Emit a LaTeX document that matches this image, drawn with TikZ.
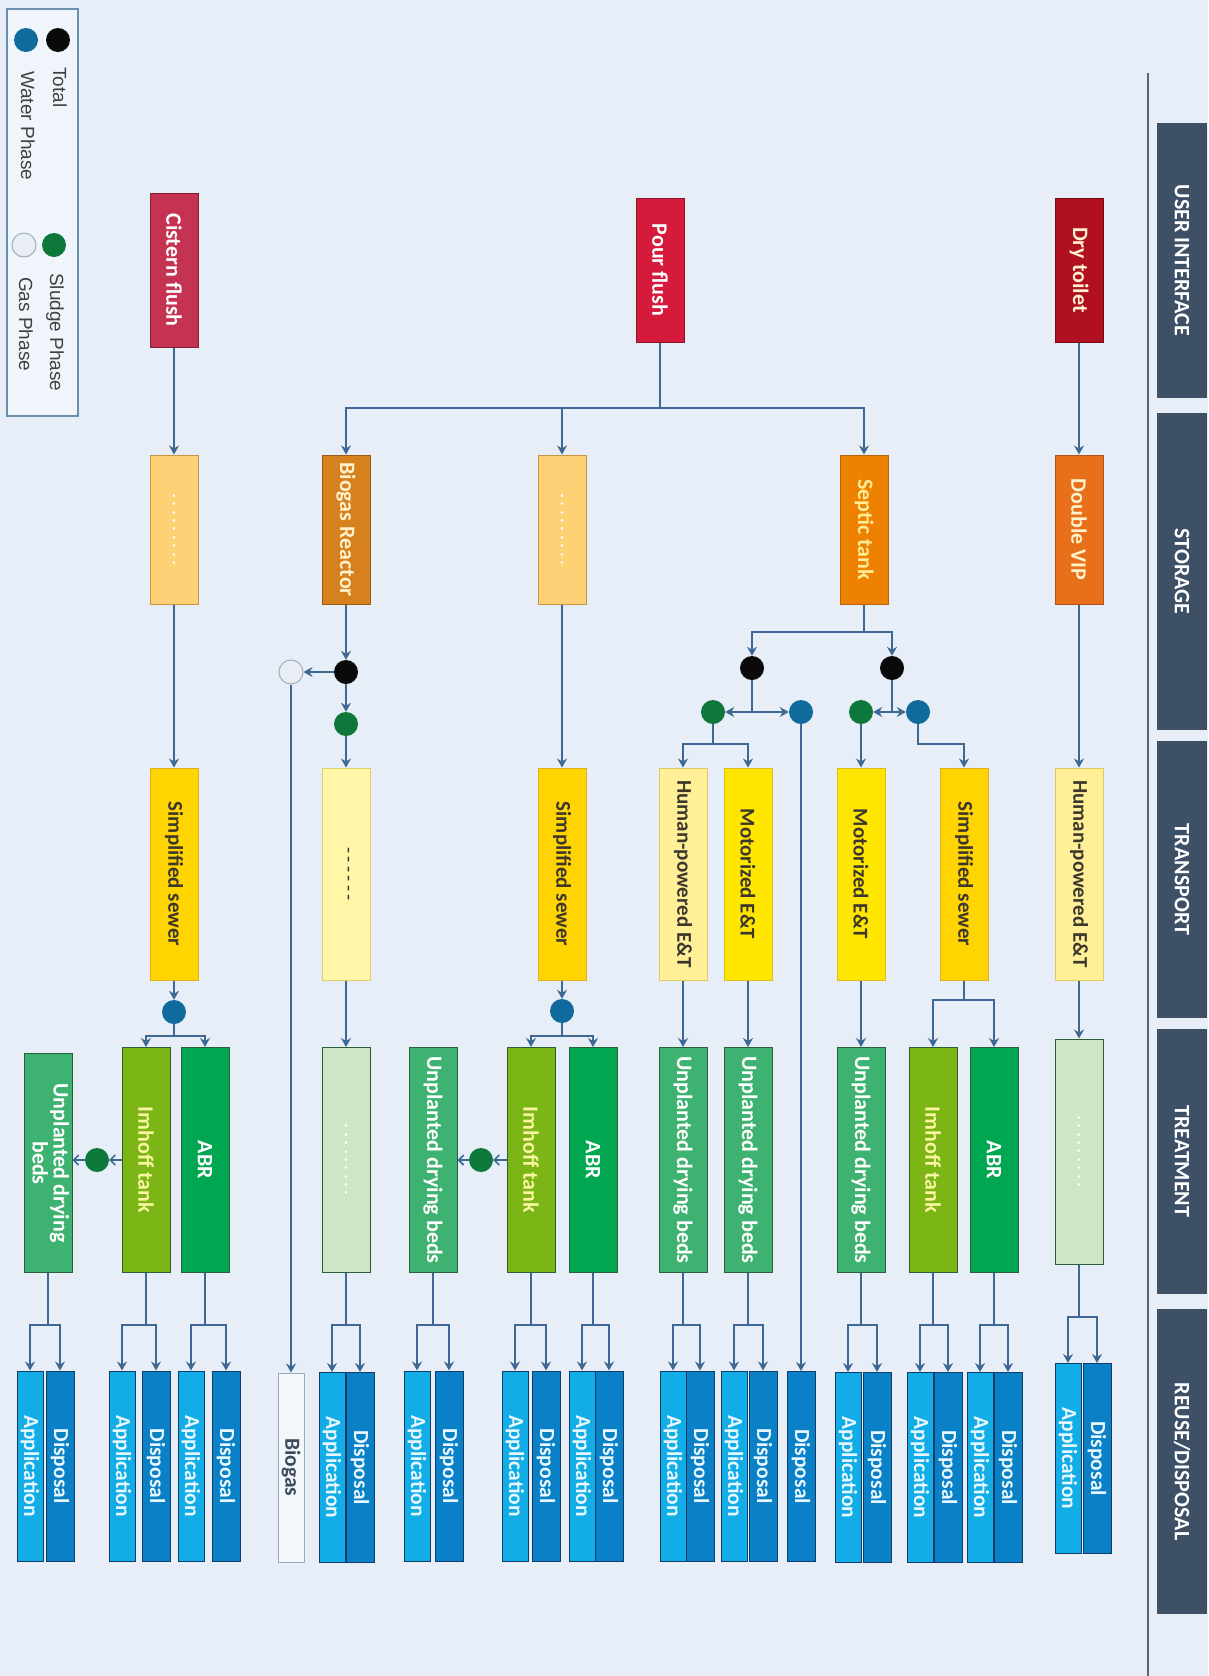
\documentclass[tikz,border=0pt]{standalone}
\usepackage{fontspec}
\usepackage{graphicx}
\setmainfont{Carlito}
\newfontfamily\legendfont{Liberation Sans}
\usetikzlibrary{arrows.meta}

% palette
\definecolor{bg}{RGB}{232,238,247}
\definecolor{hdr}{RGB}{62,80,102}
\definecolor{wire}{RGB}{62,104,148}
\definecolor{sepline}{RGB}{95,100,110}
\definecolor{legfill}{RGB}{240,245,251}
\definecolor{legbd}{RGB}{105,145,175}
\definecolor{legtxt}{RGB}{64,64,64}
\definecolor{cDry}{RGB}{176,16,32}   \definecolor{cDryB}{RGB}{115,10,20}
\definecolor{cPour}{RGB}{214,26,60}  \definecolor{cPourB}{RGB}{140,20,40}
\definecolor{cCist}{RGB}{196,52,82}  \definecolor{cCistB}{RGB}{135,30,55}
\definecolor{cVip}{RGB}{232,112,26}  \definecolor{cVipB}{RGB}{175,85,25}
\definecolor{cSep}{RGB}{238,130,0}   \definecolor{cSepB}{RGB}{185,100,10}
\definecolor{cRea}{RGB}{214,128,30}  \definecolor{cReaB}{RGB}{155,90,20}
\definecolor{cPh}{RGB}{253,210,118}  \definecolor{cPhB}{RGB}{195,150,65}
\definecolor{cHum}{RGB}{255,240,152} \definecolor{cHumB}{RGB}{225,200,95}
\definecolor{cMot}{RGB}{255,230,0}   \definecolor{cMotB}{RGB}{220,190,30}
\definecolor{cSew}{RGB}{255,212,0}   \definecolor{cSewB}{RGB}{220,175,30}
\definecolor{cBt}{RGB}{255,246,168}  \definecolor{cBtB}{RGB}{225,205,105}
\definecolor{cAbr}{RGB}{0,166,80}    \definecolor{cImh}{RGB}{124,182,22}
\definecolor{cUdb}{RGB}{62,178,112}  \definecolor{cTrPh}{RGB}{206,230,196}
\definecolor{cTrB}{RGB}{40,95,55}
\definecolor{cApp}{RGB}{18,172,230}  \definecolor{cDsp}{RGB}{10,128,198}
\definecolor{cRuB}{RGB}{20,60,105}
\definecolor{cGasBox}{RGB}{243,246,250} \definecolor{cGasBoxB}{RGB}{150,170,190}
\definecolor{dBlack}{RGB}{10,10,10}
\definecolor{dWater}{RGB}{16,106,156}
\definecolor{dSludge}{RGB}{14,120,58}
\definecolor{dGas}{RGB}{232,238,244} \definecolor{dGasB}{RGB}{160,175,190}
\definecolor{tDark}{RGB}{60,55,45}
\definecolor{tCream}{RGB}{255,242,205}
\definecolor{tSep}{RGB}{255,236,150}
\definecolor{tImh}{RGB}{250,245,160}
\definecolor{tRu}{RGB}{232,248,255}
\definecolor{tGas}{RGB}{60,75,92}

\newcommand\vt[1]{\rotatebox{-90}{#1}}
\newcommand\boxfont{\fontsize{22}{24}\selectfont\bfseries}
\newcommand\rufont{\fontsize{21.5}{23}\selectfont\bfseries}
% placeholder labels
\newcommand\dotrow{\vt{\fontsize{20}{22}\selectfont\mdseries .\,.\,.\,.\,.\,.\,.\,.\,.}}
\newcommand\dashrow{\vt{\fontsize{20}{22}\selectfont\mdseries -\,-\,-\,-\,-\,-}}

% reuse pair: name, x application, x disposal, y centre
\newcommand\rpair[4]{%
  \node[app] (#1a) at (#2,#4) {\vt{Application}};
  \node[dsp] (#1d) at (#3,#4) {\vt{Disposal}};}
% fork: source, x, y of the branch point, two targets
\newcommand\forkdown[5]{%
  \coordinate (#1-fk) at (#2,#3);
  \draw[conn] (#1) -- (#1-fk);
  \draw[arr] (#1-fk) -| (#4);
  \draw[arr] (#1-fk) -| (#5);}

\begin{document}
\begin{tikzpicture}[x=1pt,y=-1pt,
  box/.style={rectangle, draw, line width=1pt, inner sep=0pt, font=\boxfont},
  hdrbox/.style={rectangle, fill=hdr, inner sep=0pt, minimum width=50pt, text=white, font=\boxfont},
  ui/.style={box, minimum width=48pt, minimum height=144pt, text=white},
  st/.style={box, minimum width=48pt, minimum height=149pt, text=tCream},
  tp/.style={box, minimum width=48pt, minimum height=212pt, text=tDark, font=\fontsize{21}{23}\selectfont\bfseries},
  tr/.style={box, draw=cTrB, minimum width=48pt, minimum height=225pt, text=white},
  app/.style={box, draw=cRuB, fill=cApp, minimum width=26pt, minimum height=190pt, text=tRu, font=\rufont},
  dsp/.style={box, draw=cRuB, fill=cDsp, minimum width=28pt, minimum height=190pt, text=tRu, font=\rufont},
  dot/.style={circle, inner sep=0pt, minimum size=24pt},
  legtext/.style={inner sep=0pt, anchor=north, text=legtxt, font=\legendfont\fontsize{19}{21}\selectfont},
  conn/.style={draw=wire, line width=1.6pt},
  arr/.style={conn, -{Stealth[length=9pt,width=10pt,inset=3pt]}},
  chev/.style={conn, -{Straight Barb[length=5pt,width=10pt]}}]

\useasboundingbox (0,0) rectangle (1208,1676);
\fill[bg] (0,0) rectangle (1208,1676);

% stage headers
\draw[sepline, line width=1.6pt] (1148,73) -- (1148,1676);
\node[hdrbox, minimum height=275pt] (hUI) at (1182,260.5) {\vt{USER INTERFACE}};
\node[hdrbox, minimum height=317pt] (hST) at (1182,571.5) {\vt{STORAGE}};
\node[hdrbox, minimum height=277pt] (hTP) at (1182,879.5) {\vt{TRANSPORT}};
\node[hdrbox, minimum height=265pt] (hTR) at (1182,1161.5) {\vt{TREATMENT}};
\node[hdrbox, minimum height=305pt] (hRU) at (1182,1461.5) {\vt{REUSE/DISPOSAL}};

% legend
\node[draw=legbd, fill=legfill, line width=1.6pt, minimum width=71pt, minimum height=407pt, inner sep=0pt] (legend) at (42.5,212.5) {};
\node[dot, fill=dBlack] (lTot) at (58,40) {};
\node[dot, fill=dWater] (lWat) at (26,40) {};
\node[dot, fill=dSludge] (lSlu) at (54,245) {};
\node[dot, fill=dGas, draw=dGasB, line width=1pt] (lGas) at (24,245) {};
\node[legtext] (lTotT) at (60,67) {\vt{Total}};
\node[legtext] (lWatT) at (28,71) {\vt{Water Phase}};
\node[legtext] (lSluT) at (55,273) {\vt{Sludge Phase}};
\node[legtext] (lGasT) at (26,277) {\vt{Gas Phase}};

% user interface
\node[ui, fill=cDry, draw=cDryB, text=tCream] (dry) at (1079,270) {\vt{Dry toilet}};
\node[ui, fill=cPour, draw=cPourB] (pour) at (660,270) {\vt{Pour flush}};
\node[ui, fill=cCist, draw=cCistB, minimum height=154pt] (cist) at (174,270) {\vt{Cistern flush}};

% storage
\node[st, fill=cVip, draw=cVipB] (vip) at (1079,529.5) {\vt{Double VIP}};
\node[st, fill=cSep, draw=cSepB, text=tSep] (sep) at (864,529.5) {\vt{Septic tank}};
\node[st, fill=cPh, draw=cPhB, text=white] (pst) at (562,529.5) {\dotrow};
\node[st, fill=cRea, draw=cReaB] (rea) at (346,529.5) {\vt{Biogas Reactor}};
\node[st, fill=cPh, draw=cPhB, text=white] (cst) at (174,529.5) {\dotrow};

% transport
\node[tp, fill=cHum, draw=cHumB] (hum0) at (1079,874) {\vt{Human-powered E\&T}};
\node[tp, fill=cSew, draw=cSewB] (sew2) at (964,874) {\vt{Simplified sewer}};
\node[tp, fill=cMot, draw=cMotB] (mot2) at (861,874) {\vt{Motorized E\&T}};
\node[tp, fill=cMot, draw=cMotB] (mot1) at (748,874) {\vt{Motorized E\&T}};
\node[tp, fill=cHum, draw=cHumB] (hum1) at (683,874) {\vt{Human-powered E\&T}};
\node[tp, fill=cSew, draw=cSewB] (psew) at (562,874) {\vt{Simplified sewer}};
\node[tp, fill=cBt, draw=cBtB] (biot) at (346,874) {\dashrow};
\node[tp, fill=cSew, draw=cSewB] (csew) at (174,874) {\vt{Simplified sewer}};

% phase junctions
\node[dot, fill=dBlack] (k1) at (752,668) {};
\node[dot, fill=dBlack] (k2) at (892,668) {};
\node[dot, fill=dSludge] (g1) at (713,712) {};
\node[dot, fill=dWater] (b1) at (801,712) {};
\node[dot, fill=dSludge] (g2) at (861,712) {};
\node[dot, fill=dWater] (b2) at (918,712) {};
\node[dot, fill=dBlack] (k3) at (346,672) {};
\node[dot, fill=dGas, draw=dGasB, line width=1pt] (gas) at (291,672) {};
\node[dot, fill=dSludge] (g3) at (346,724) {};
\node[dot, fill=dWater] (w4) at (562,1011) {};
\node[dot, fill=dWater] (w3) at (174,1012) {};
\node[dot, fill=dSludge] (g5) at (481,1160) {};
\node[dot, fill=dSludge] (g6) at (97,1160) {};

% treatment
\node[tr, fill=cTrPh, text=white] (tr0) at (1079,1151.5) {\dotrow};
\node[tr, fill=cAbr] (abr2) at (994,1160) {\vt{ABR}};
\node[tr, fill=cImh, text=tImh] (imh2) at (933,1160) {\vt{Imhoff tank}};
\node[tr, fill=cUdb] (udm2) at (861,1160) {\vt{Unplanted drying beds}};
\node[tr, fill=cUdb] (udm1) at (748,1160) {\vt{Unplanted drying beds}};
\node[tr, fill=cUdb] (udh1) at (683,1160) {\vt{Unplanted drying beds}};
\node[tr, fill=cAbr] (abrp) at (593,1160) {\vt{ABR}};
\node[tr, fill=cImh, text=tImh] (imhp) at (531,1160) {\vt{Imhoff tank}};
\node[tr, fill=cUdb] (udp) at (433,1160) {\vt{Unplanted drying beds}};
\node[tr, fill=cTrPh, text=white] (biotr) at (346,1160) {\dotrow};
\node[tr, fill=cAbr] (abrc) at (205,1160) {\vt{ABR}};
\node[tr, fill=cImh, text=tImh] (imhc) at (146,1160) {\vt{Imhoff tank}};
\node[tr, fill=cUdb, minimum height=219pt] (udc) at (48,1163)
  {\vt{\begin{tabular}{@{}c@{}}Unplanted drying\\[-3pt] beds\end{tabular}}};

% reuse / disposal
\rpair{r0}{1068}{1097}{1458.5}
\rpair{r1}{980}{1008}{1467.5}
\rpair{r2}{920}{948}{1467.5}
\rpair{r3}{848}{877}{1467.5}
\node[dsp] (d0) at (801,1466.5) {\vt{Disposal}};
\rpair{r4}{734}{763}{1466}
\rpair{r5}{673}{700}{1466}
\rpair{r6}{582}{609}{1466}
\rpair{r7}{515}{546}{1466}
\rpair{r8}{417}{449}{1466}
\rpair{r9}{332}{360}{1467.5}
\node[box, draw=cGasBoxB, fill=cGasBox, text=tGas, minimum width=26pt, minimum height=189pt, font=\rufont] (bgas) at (291,1467.5) {\vt{Biogas}};
\rpair{r10}{191}{226}{1466}
\rpair{r11}{122}{156}{1466}
\rpair{r12}{30}{60}{1466}

% dry toilet chain
\draw[arr] (dry) -- (vip);
\draw[arr] (vip) -- (hum0);
\draw[arr] (hum0) -- (tr0);
\forkdown{tr0}{1079}{1317}{r0a}{r0d}

% pour flush distribution
\coordinate (pj) at (660,408);
\draw[conn] (pour) -- (pj);
\draw[arr] (pj) -| (sep);
\draw[arr] (pj) -| (pst);
\draw[arr] (pj) -| (rea);

% septic tank phase split
\forkdown{sep}{864}{632}{k1}{k2}
\coordinate (j2) at (892,712);
\draw[conn] (k2) -- (j2);
\draw[arr] (j2) -- (g2);
\draw[arr] (j2) -- (b2);
\coordinate (j1) at (752,712);
\draw[conn] (k1) -- (j1);
\draw[arr] (j1) -- (g1);
\draw[arr] (j1) -- (b1);
\draw[arr] (g2) -- (mot2);
\coordinate (c2) at (918,744);
\draw[arr] (b2) -- (c2) -| (sew2);
\forkdown{g1}{713}{744}{hum1}{mot1}
\draw[arr] (b1) -- (d0);
\forkdown{sew2}{964}{1000}{imh2}{abr2}
\draw[arr] (mot2) -- (udm2);
\draw[arr] (mot1) -- (udm1);
\draw[arr] (hum1) -- (udh1);

% pour flush, sewer branch
\draw[arr] (pst) -- (psew);
\draw[arr] (psew) -- (w4);
\forkdown{w4}{562}{1036}{imhp}{abrp}
\draw[chev] (imhp) -- (g5);
\draw[chev] (g5) -- (udp);

% biogas branch
\draw[arr] (rea) -- (k3);
\draw[arr] (k3) -- (gas);
\draw[arr] (k3) -- (g3);
\draw[arr] (g3) -- (biot);
\draw[arr] (biot) -- (biotr);
\draw[arr] (gas) -- (bgas);

% cistern flush chain
\draw[arr] (cist) -- (cst);
\draw[arr] (cst) -- (csew);
\draw[arr] (csew) -- (w3);
\forkdown{w3}{174}{1036}{imhc}{abrc}
\draw[chev] (imhc) -- (g6);
\draw[chev] (g6) -- (udc.east |- g6);

% treatment to reuse / disposal
\forkdown{abr2}{994}{1325}{r1a}{r1d}
\forkdown{imh2}{933}{1325}{r2a}{r2d}
\forkdown{udm2}{861}{1325}{r3a}{r3d}
\forkdown{udm1}{748}{1325}{r4a}{r4d}
\forkdown{udh1}{683}{1325}{r5a}{r5d}
\forkdown{abrp}{593}{1325}{r6a}{r6d}
\forkdown{imhp}{531}{1325}{r7a}{r7d}
\forkdown{udp}{433}{1325}{r8a}{r8d}
\forkdown{biotr}{346}{1325}{r9a}{r9d}
\forkdown{abrc}{205}{1325}{r10a}{r10d}
\forkdown{imhc}{146}{1325}{r11a}{r11d}
\forkdown{udc}{48}{1325}{r12a}{r12d}
\end{tikzpicture}
\end{document}
